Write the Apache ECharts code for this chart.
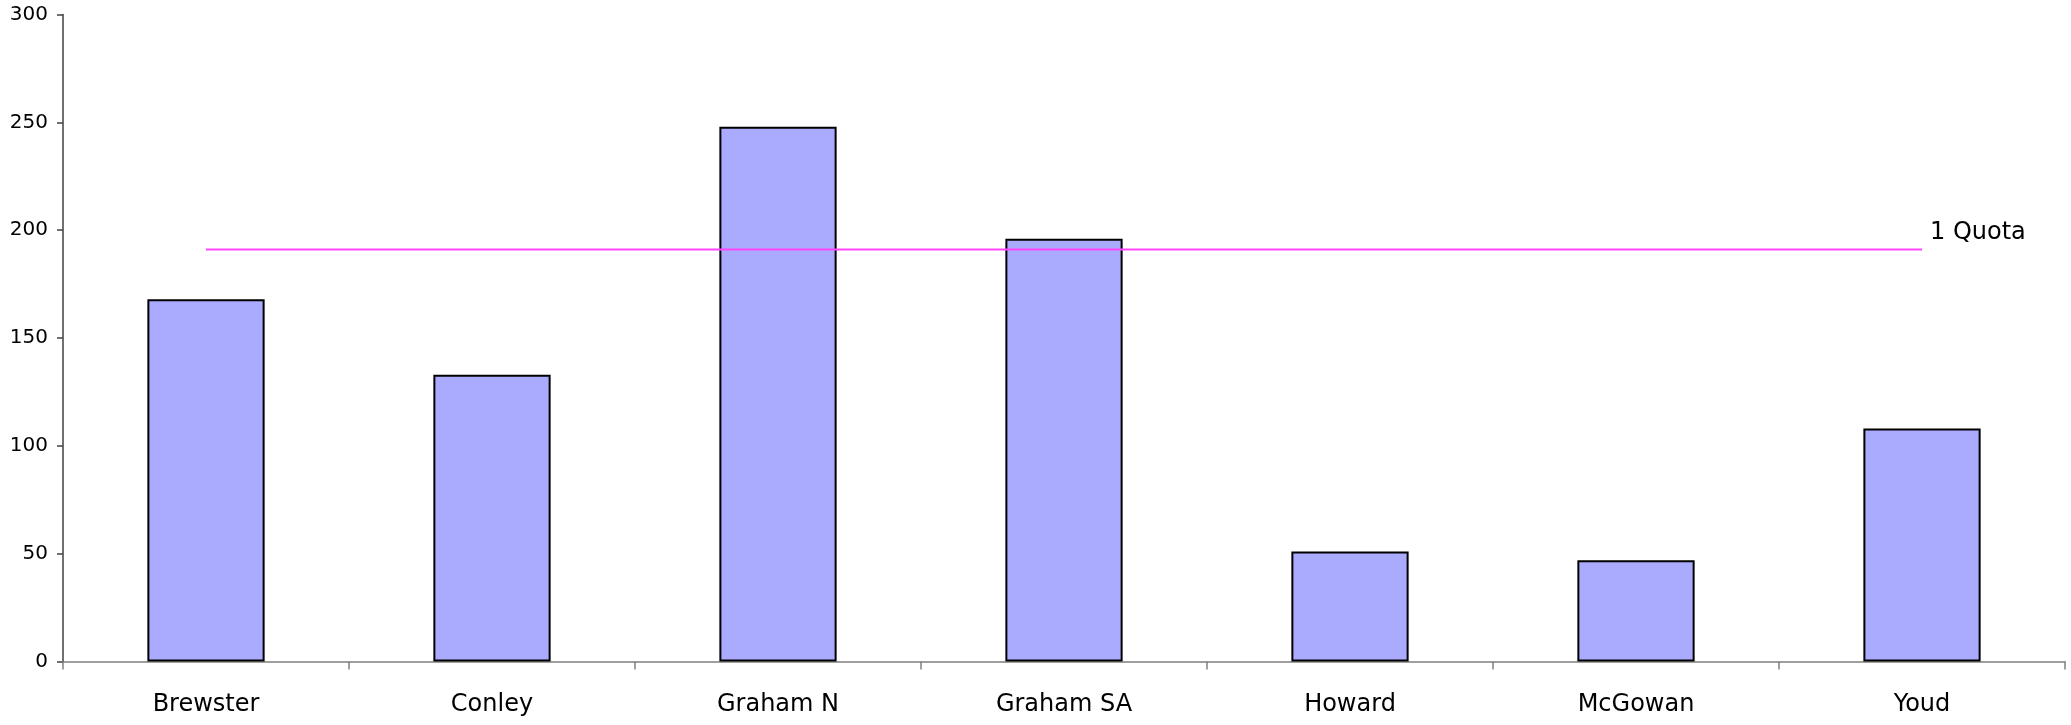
<!DOCTYPE html>
<html>
<head>
<meta charset="utf-8">
<script src="https://cdn.jsdelivr.net/npm/echarts@6/dist/echarts.min.js"></script>
<style>
html,body{margin:0;padding:0;background:#fff;}
#chart{width:2071px;height:725px;}
</style>
</head>
<body>
<div id="chart"></div>
<script>
var categories = ['Brewster', 'Conley', 'Graham N', 'Graham SA', 'Howard', 'McGowan', 'Youd'];
var votes = [168, 133, 248, 196, 51, 47, 108];
var quotaValue = 191;
var quotaLabel = '1 Quota';
var yTicks = [0, 50, 100, 150, 200, 250, 300];

var quota = categories.map(function () { return quotaValue; });

var chart = echarts.init(document.getElementById('chart'), null, {renderer: 'canvas'});
chart.setOption({
  animation: false,
  backgroundColor: '#ffffff',
  grid: {left: 63, right: 6, top: 14.5, bottom: 63.5, containLabel: false},
  xAxis: {
    type: 'category',
    data: categories,
    boundaryGap: true,
    axisLine: {show: true, lineStyle: {color: '#808080', width: 1.5}},
    axisTick: {show: true, length: 8, alignWithLabel: false, lineStyle: {color: '#808080', width: 1.5}},
    axisLabel: {color: '#000', fontFamily: 'DejaVu Sans', fontSize: 24, margin: 31},
    splitLine: {show: false}
  },
  yAxis: {
    type: 'value',
    min: yTicks[0],
    max: yTicks[yTicks.length - 1],
    interval: yTicks[1] - yTicks[0],
    axisLine: {show: true, lineStyle: {color: '#404040', width: 1.5}},
    axisTick: {show: true, length: 6, lineStyle: {color: '#404040', width: 1.5}},
    axisLabel: {color: '#000', fontFamily: 'DejaVu Sans', fontSize: 20, margin: 15},
    splitLine: {show: false}
  },
  series: [
    {
      type: 'bar',
      data: votes,
      barWidth: '41%',
      itemStyle: {color: '#AAAAFF', borderColor: '#000000', borderWidth: 2}
    },
    {
      type: 'line',
      data: quota,
      symbol: 'none',
      lineStyle: {color: '#FF44FF', width: 2},
      z: 5,
      endLabel: {
        show: true,
        formatter: quotaLabel,
        color: '#000',
        fontFamily: 'DejaVu Sans',
        fontSize: 24,
        offset: [0, -17]
      }
    }
  ]
});
</script>
</body>
</html>
